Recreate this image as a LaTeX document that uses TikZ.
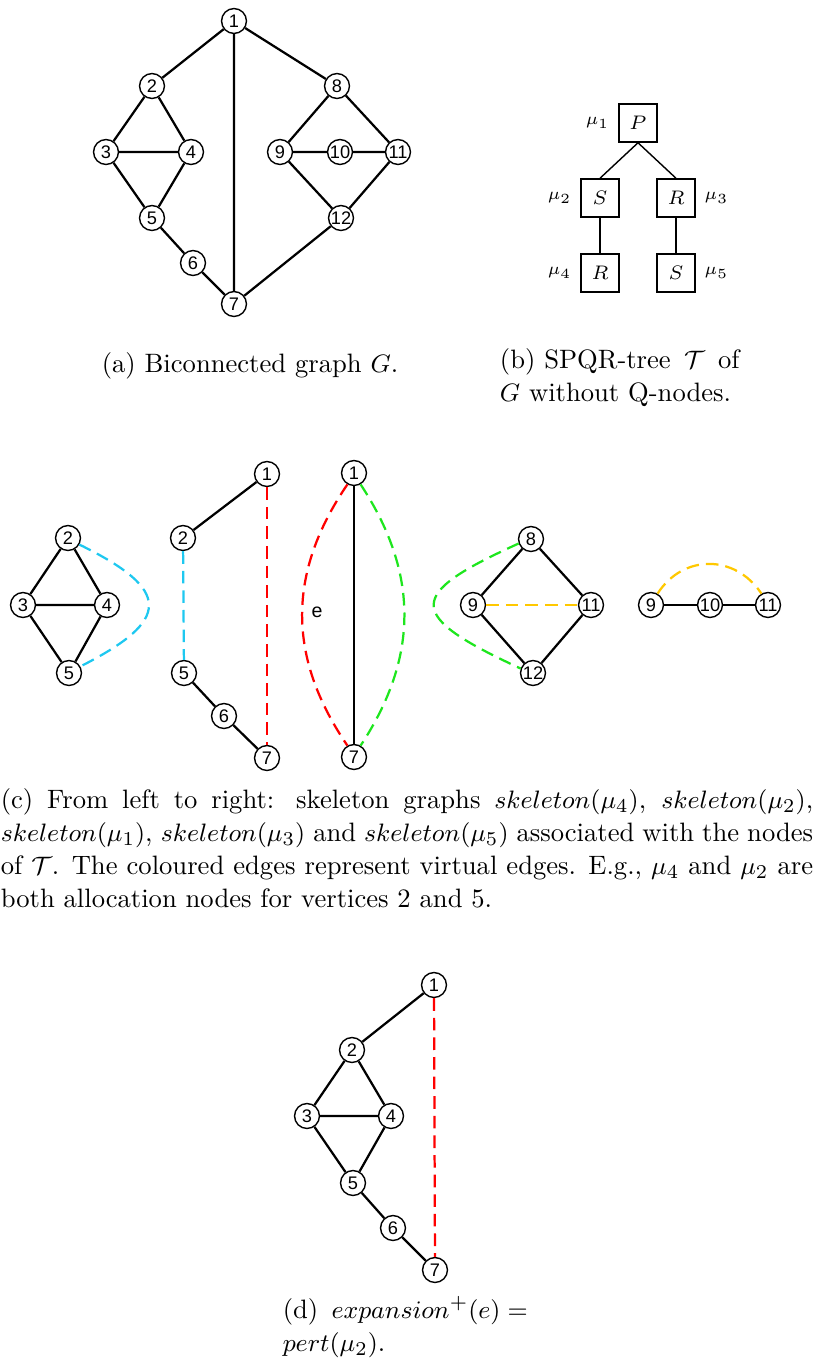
\documentclass[tikz,border=0pt]{standalone}
\usepackage{amsmath,amssymb}
\usepackage{fontspec}
\newfontfamily\vertexfont{Liberation Sans}
\usetikzlibrary{positioning}
\definecolor{virtblue}{RGB}{30,200,240}
\definecolor{virtred}{RGB}{255,0,0}
\definecolor{virtgreen}{RGB}{30,230,30}
\definecolor{virtyellow}{RGB}{255,200,0}

\begin{document}
\begin{tikzpicture}[x=0.357pt,y=-0.357pt,
    vertex/.style={circle,draw,line width=0.5pt,minimum size=8.9pt,inner sep=0pt,
      font=\vertexfont\fontsize{6.5}{7}\selectfont},
    edge/.style={line width=0.8pt},
    virtual/.style={line width=0.8pt,dash pattern=on 4.5pt off 2.5pt},
    spqr/.style={draw,line width=0.5pt,minimum size=13.6pt,inner sep=0pt,
      font=\fontsize{7}{8}\selectfont},
    mulabel/.style={font=\fontsize{6}{7}\selectfont,inner sep=1pt},
    caption/.style={font=\fontsize{9.5}{11.8}\selectfont,inner sep=0pt}]
    \useasboundingbox (0,0) rectangle (814,1362);
    % (a) Grafo G
    \node[vertex] (g1) at (234,21) {1};
    \node[vertex] (g2) at (152,86) {2};
    \node[vertex] (g3) at (106,152) {3};
    \node[vertex] (g4) at (191,152) {4};
    \node[vertex] (g5) at (152,218) {5};
    \node[vertex] (g6) at (193,263) {6};
    \node[vertex] (g7) at (234,304) {7};
    \node[vertex] (g8) at (337,86) {8};
    \node[vertex] (g9) at (280,152) {9};
    \node[vertex] (g10) at (340,152) {10};
    \node[vertex] (g11) at (398,152) {11};
    \node[vertex] (g12) at (341,218) {12};
    \draw[edge] (g1) -- (g2) (g1) -- (g7) (g1) -- (g8);
    \draw[edge] (g2) -- (g3) (g2) -- (g4) (g3) -- (g4) (g3) -- (g5) (g4) -- (g5);
    \draw[edge] (g5) -- (g6) (g6) -- (g7) (g12) -- (g7);
    \draw[edge] (g8) -- (g9) (g8) -- (g11) (g9) -- (g10) (g10) -- (g11);
    \draw[edge] (g9) -- (g12) (g11) -- (g12);
    \node[caption] (capa) at (250,366) {(a) Biconnected graph $G$.};
    % (b) SPQR-tree
    \node[spqr] (p1) at (638,123) {$P$};
    \node[spqr] (p2) at (600,198) {$S$};
    \node[spqr] (p3) at (676,198) {$R$};
    \node[spqr] (p4) at (600,273) {$R$};
    \node[spqr] (p5) at (676,273) {$S$};
    \node[mulabel,left=2pt of p1] {$\mu_1$};
    \node[mulabel,left=2pt of p2] {$\mu_2$};
    \node[mulabel,right=2pt of p3] {$\mu_3$};
    \node[mulabel,left=2pt of p4] {$\mu_4$};
    \node[mulabel,right=2pt of p5] {$\mu_5$};
    \draw[line width=0.5pt] (p1.south) -- (p2.north);
    \draw[line width=0.5pt] (p1.south) -- (p3.north);
    \draw[line width=0.5pt] (p2) -- (p4);
    \draw[line width=0.5pt] (p3) -- (p5);
    \node[caption,text width=100pt,align=left] (capb) at (640,378)
      {(b) SPQR-tree \,$\mathcal{T}$\, of\\ $G$ without Q-nodes.};
    % (c) skeleton(mu_4)
    \node[vertex] (k4v2) at (68,538) {2};
    \node[vertex] (k4v3) at (23,605) {3};
    \node[vertex] (k4v4) at (107,605) {4};
    \node[vertex] (k4v5) at (69,673) {5};
    \draw[edge] (k4v2) -- (k4v3) (k4v2) -- (k4v4) (k4v3) -- (k4v4) (k4v3) -- (k4v5) (k4v4) -- (k4v5);
    \draw[virtual,virtblue] (k4v2.-30) .. controls (172,590) and (172,620) .. (k4v5.30);
    % skeleton(mu_2)
    \node[vertex] (k2v1) at (267,474) {1};
    \node[vertex] (k2v2) at (183,538) {2};
    \node[vertex] (k2v5) at (184,673) {5};
    \node[vertex] (k2v6) at (224,716) {6};
    \node[vertex] (k2v7) at (267,758) {7};
    \draw[edge] (k2v1) -- (k2v2) (k2v5) -- (k2v6) (k2v6) -- (k2v7);
    \draw[virtual,virtblue] (k2v2) -- (k2v5);
    \draw[virtual,virtred] (k2v1) -- (k2v7);
    % skeleton(mu_1)
    \node[vertex] (k1v1) at (354,473) {1};
    \node[vertex] (k1v7) at (354,757) {7};
    \draw[edge] (k1v1) -- (k1v7);
    \draw[virtual,virtred] (k1v1.-120) .. controls (287,573) and (287,657) .. (k1v7.120);
    \draw[virtual,virtgreen] (k1v1.-60) .. controls (419,573) and (419,657) .. (k1v7.60);
    \node[font=\vertexfont\fontsize{7}{8}\selectfont] (elabel) at (317,612) {e};
    % skeleton(mu_3)
    \node[vertex] (k3v8) at (531,539) {8};
    \node[vertex] (k3v9) at (473,605) {9};
    \node[vertex] (k3v11) at (591,605) {11};
    \node[vertex] (k3v12) at (533,673) {12};
    \draw[edge] (k3v8) -- (k3v9) (k3v8) -- (k3v11) (k3v9) -- (k3v12) (k3v11) -- (k3v12);
    \draw[virtual,virtyellow] (k3v9) -- (k3v11);
    \draw[virtual,virtgreen] (k3v8.-160) .. controls (405,595) and (405,615) .. (k3v12.160);
    % skeleton(mu_5)
    \node[vertex] (k5v9) at (651,605) {9};
    \node[vertex] (k5v10) at (710,605) {10};
    \node[vertex] (k5v11) at (768,605) {11};
    \draw[edge] (k5v9) -- (k5v10) (k5v10) -- (k5v11);
    \draw[virtual,virtyellow] (k5v9.60) .. controls (683,554) and (735,554) .. (k5v11.120);
    \node[caption,text width=290pt,align=justify] (capc) at (407,848)
      {(c) From left to right: skeleton graphs $skeleton(\mu_4)$, $skeleton(\mu_2)$,\linebreak
       $skeleton(\mu_1)$, $skeleton(\mu_3)$ and $skeleton(\mu_5)$ associated with the nodes\linebreak
       of $\mathcal{T}$. The coloured edges represent virtual edges. E.g., $\mu_4$ and $\mu_2$ are\linebreak
       both allocation nodes for vertices 2 and 5.};
    % (d) expansion
    \node[vertex] (x1) at (434,985) {1};
    \node[vertex] (x2) at (352,1050) {2};
    \node[vertex] (x3) at (307,1116) {3};
    \node[vertex] (x4) at (391,1116) {4};
    \node[vertex] (x5) at (353,1183) {5};
    \node[vertex] (x6) at (393,1228) {6};
    \node[vertex] (x7) at (435,1270) {7};
    \draw[edge] (x1) -- (x2) (x2) -- (x3) (x2) -- (x4) (x3) -- (x4) (x3) -- (x5) (x4) -- (x5);
    \draw[edge] (x5) -- (x6) (x6) -- (x7);
    \draw[virtual,virtred] (x1) -- (x7);
    \node[caption,text width=88pt,align=left] (capd) at (406,1327)
      {(d) \,$expansion^+(e) =$\\ $pert(\mu_2)$.};
\end{tikzpicture}
\end{document}
